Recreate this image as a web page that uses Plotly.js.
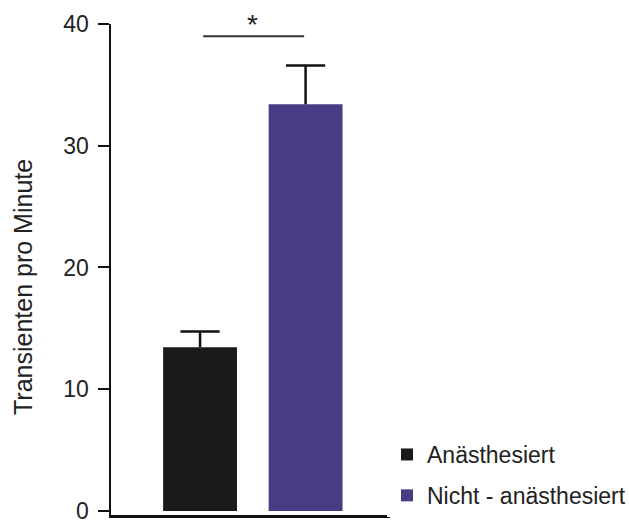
<!DOCTYPE html>
<html><head><meta charset="utf-8">
<script src="https://cdn.plot.ly/plotly-3.0.1.min.js"></script>
<style>html,body{margin:0;padding:0;background:#fff}</style>
</head><body><div id="chart" style="width:629px;height:524px"></div>
<script>
const groups = ["Anästhesiert", "Nicht - anästhesiert"];
const positions = [0, 1];
const means = [13.45, 33.4];
const sem = [1.3, 3.2];
const colors = ["#1a1a1a", "#4a3b85"];
const yTicks = [0, 10, 20, 30, 40];
const yTitle = "Transienten pro Minute";
const sigText = "*";

const traces = groups.map((g, i) => ({
  type: "bar",
  name: g,
  legendgroup: "g" + i,
  x: [positions[i]],
  y: [means[i]],
  width: 0.7,
  marker: {color: colors[i], line: {width: 0}},
  hoverinfo: "skip"
}));
// error bars: whisker from mean up to mean+sem, cap drawn as a line marker at the top
traces.push({
  type: "scatter",
  mode: "markers",
  showlegend: false,
  x: positions,
  y: means.map((m, i) => m + sem[i]),
  marker: {symbol: "line-ew", size: 28, color: "#111", line: {color: "#111", width: 2.5}},
  error_y: {type: "data", symmetric: false, array: [0, 0], arrayminus: sem,
            color: "#111", thickness: 2.5, width: 0},
  cliponaxis: false,
  hoverinfo: "skip"
});

const W = 629, H = 524, L = 111, R = 239, T = 24, B = 9;
const pw = W - L - R, ph = H - T - B;

const layout = {
  width: W, height: H,
  margin: {l: L, r: R, t: T, b: B, autoexpand: false},
  paper_bgcolor: "#fff", plot_bgcolor: "#fff",
  font: {family: "Liberation Sans, Arial, sans-serif", color: "#222", size: 24},
  showlegend: true,
  legend: {traceorder: "grouped", tracegroupgap: 8, xanchor: "left", yanchor: "top",
           x: (387 - L) / pw, y: (H - B - 433) / ph,
           font: {size: 23, color: "#222"}},
  xaxis: {range: [-0.844, 1.80], showticklabels: false, ticks: "", showgrid: false,
          zeroline: false, showline: true, linecolor: "#111", linewidth: 2.5, fixedrange: true},
  yaxis: {range: [-0.33, 40], tickvals: yTicks, ticktext: yTicks.map(String), ticks: "outside",
          ticklen: 11, tickwidth: 2, tickcolor: "#111", showgrid: false, zeroline: false,
          showline: true, linecolor: "#111", linewidth: 2.5, ticklabelstandoff: 4,
          ticklabeloverflow: "allow", tickfont: {size: 23}},
  shapes: [{type: "line", xref: "x", yref: "y", x0: 0.03, x1: 0.986, y0: 39.0, y1: 39.0,
            line: {color: "#333", width: 2}}],
  annotations: [
    {xref: "x", yref: "y", x: 0.5, y: 38.55, text: sigText, showarrow: false,
     yanchor: "bottom", font: {size: 28, color: "#222"}},
    {xref: "paper", yref: "paper", x: (23 - L) / pw, y: (H - B - 287) / ph, text: yTitle,
     textangle: -90, showarrow: false, xanchor: "center", yanchor: "middle",
     font: {size: 25, color: "#222"}}
  ]
};
Plotly.newPlot("chart", traces, layout, {displayModeBar: false, staticPlot: true});
</script></body></html>
